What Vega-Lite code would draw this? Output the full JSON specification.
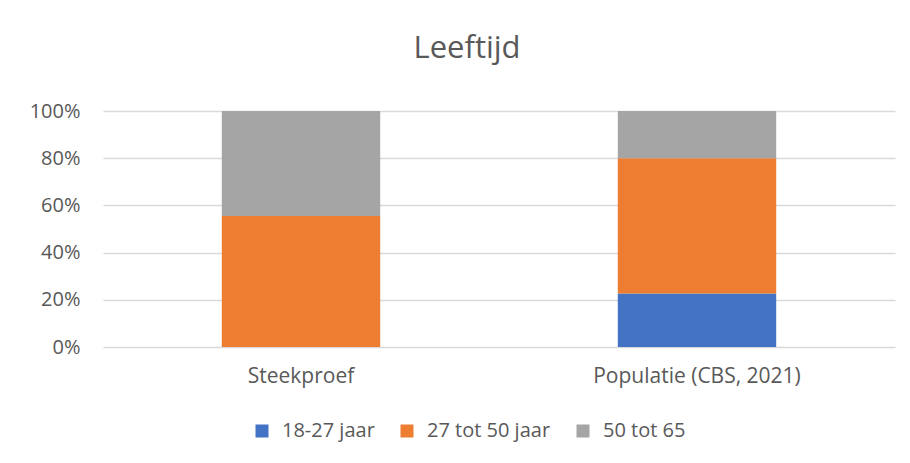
{
  "$schema": "https://vega.github.io/schema/vega-lite/v6.json",
  "autosize": "none",
  "width": 792,
  "height": 236,
  "padding": {"left": 103, "top": 111, "right": 15, "bottom": 116},
  "background": "white",
  "title": {
    "text": "Leeftijd",
    "font": "Open Sans",
    "fontSize": 31,
    "fontWeight": "normal",
    "color": "#595959",
    "anchor": "middle",
    "dx": -32,
    "offset": 36
  },
  "data": {
    "values": [
      {"groep": "Steekproef", "leeftijd": "18-27 jaar", "aandeel": 0.0},
      {"groep": "Steekproef", "leeftijd": "27 tot 50 jaar", "aandeel": 0.555},
      {"groep": "Steekproef", "leeftijd": "50 tot 65", "aandeel": 0.445},
      {"groep": "Populatie (CBS, 2021)", "leeftijd": "18-27 jaar", "aandeel": 0.227},
      {"groep": "Populatie (CBS, 2021)", "leeftijd": "27 tot 50 jaar", "aandeel": 0.573},
      {"groep": "Populatie (CBS, 2021)", "leeftijd": "50 tot 65", "aandeel": 0.2}
    ]
  },
  "mark": {"type": "bar"},
  "encoding": {
    "x": {
      "field": "groep",
      "type": "nominal",
      "sort": ["Steekproef", "Populatie (CBS, 2021)"],
      "scale": {"paddingInner": 0.6, "paddingOuter": 0.3},
      "axis": {
        "title": null,
        "labelAngle": 0,
        "domain": false,
        "ticks": false,
        "labelPadding": 18,
        "labelLimit": 400,
        "labelFont": "Open Sans",
        "labelFontSize": 21,
        "labelColor": "#595959"
      }
    },
    "y": {
      "field": "aandeel",
      "type": "quantitative",
      "stack": "zero",
      "scale": {"domain": [0, 1]},
      "axis": {
        "title": null,
        "format": ".0%",
        "values": [0, 0.2, 0.4, 0.6, 0.8, 1],
        "domain": false,
        "ticks": false,
        "labelPadding": 23,
        "labelFont": "Open Sans",
        "labelFontSize": 20,
        "labelColor": "#595959",
        "gridColor": "#d9d9d9",
        "gridWidth": 1.5
      }
    },
    "order": {"field": "leeftijd", "sort": "ascending"},
    "color": {
      "field": "leeftijd",
      "type": "nominal",
      "scale": {
        "domain": ["18-27 jaar", "27 tot 50 jaar", "50 tot 65"],
        "range": ["#4472C4", "#ED7D31", "#A5A5A5"]
      },
      "legend": {
        "title": null,
        "orient": "none",
        "legendX": 149,
        "legendY": 310,
        "direction": "horizontal",
        "symbolType": "square",
        "symbolSize": 169,
        "symbolStrokeWidth": 0,
        "symbolOpacity": 1,
        "labelFont": "Open Sans",
        "labelFontSize": 20,
        "labelColor": "#595959",
        "labelOffset": 10,
        "columnPadding": 22
      }
    }
  },
  "config": {"view": {"stroke": null}}
}
